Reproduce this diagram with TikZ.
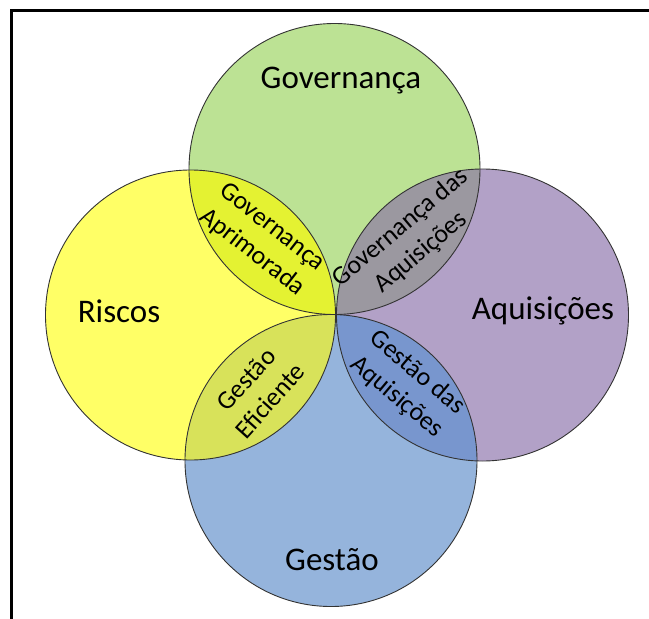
\documentclass[tikz,border=0pt]{standalone}
\usepackage{fontspec}
\setmainfont{Carlito}
\definecolor{govfill}{RGB}{188,226,148}
\definecolor{riscfill}{RGB}{255,255,102}
\definecolor{aqfill}{RGB}{178,161,199}
\definecolor{gestfill}{RGB}{149,180,220}
\definecolor{govrisc}{RGB}{228,242,50}
\definecolor{govaq}{RGB}{155,152,160}
\definecolor{gestrisc}{RGB}{216,226,90}
\definecolor{gestaq}{RGB}{120,150,206}
\tikzset{
  ring/.style={draw=black!80, line width=0.9pt},
  mainlabel/.style={font=\fontsize{33}{36}\selectfont, text=black},
  lenslabel/.style={font=\fontsize{26}{32}\selectfont, align=center, text=black, inner sep=0pt},
  frameline/.style={line width=3pt, black}
}
\begin{document}
\begin{tikzpicture}[x=1pt,y=-1pt]
\useasboundingbox (0,0) rectangle (649,619);
% circle centres
\coordinate (cT) at (334.5,169);
\coordinate (cL) at (190.5,315);
\coordinate (cR) at (482.5,315);
\coordinate (cB) at (331,460.5);
% main fills
\fill[govfill]  (cT) circle[radius=145.5];
\fill[riscfill] (cL) circle[radius=145];
\fill[aqfill]   (cR) circle[radius=146];
\fill[gestfill] (cB) circle[radius=146];
% overlaps
\begin{scope}\clip (cT) circle[radius=145.5]; \fill[govrisc] (cL) circle[radius=145]; \end{scope}
\begin{scope}\clip (cT) circle[radius=145.5]; \fill[govaq] (cR) circle[radius=146]; \end{scope}
\begin{scope}\clip (cB) circle[radius=146]; \fill[gestrisc] (cL) circle[radius=145]; \end{scope}
\begin{scope}\clip (cB) circle[radius=146]; \fill[gestaq] (cR) circle[radius=146]; \end{scope}
% outlines
\draw[ring] (cT) circle[radius=145.5];
\draw[ring] (cL) circle[radius=145];
\draw[ring] (cR) circle[radius=146];
\draw[ring] (cB) circle[radius=146];
% labels
\node[mainlabel] (gov) at (341,81) {Governança};
\node[mainlabel] (risc) at (119,311) {Riscos};
\node[mainlabel] (aq) at (543,311) {Aquisições};
\node[mainlabel] (gest) at (332,560) {Gestão};
\node[lenslabel, rotate=-38] (ga) at (262,240) {Governança\\Aprimorada};
\node[lenslabel, rotate=40] (gda) at (411,240) {Governança das\\Aquisições};
\node[lenslabel, rotate=48] (ge) at (258,390) {Gestão\\Eficiente};
\node[lenslabel, rotate=-40] (gdaq) at (407,385) {Gestão das\\Aquisições};
% frame
\draw[frameline] (11.5,619) -- (11.5,10) -- (649,10);
\end{tikzpicture}
\end{document}
